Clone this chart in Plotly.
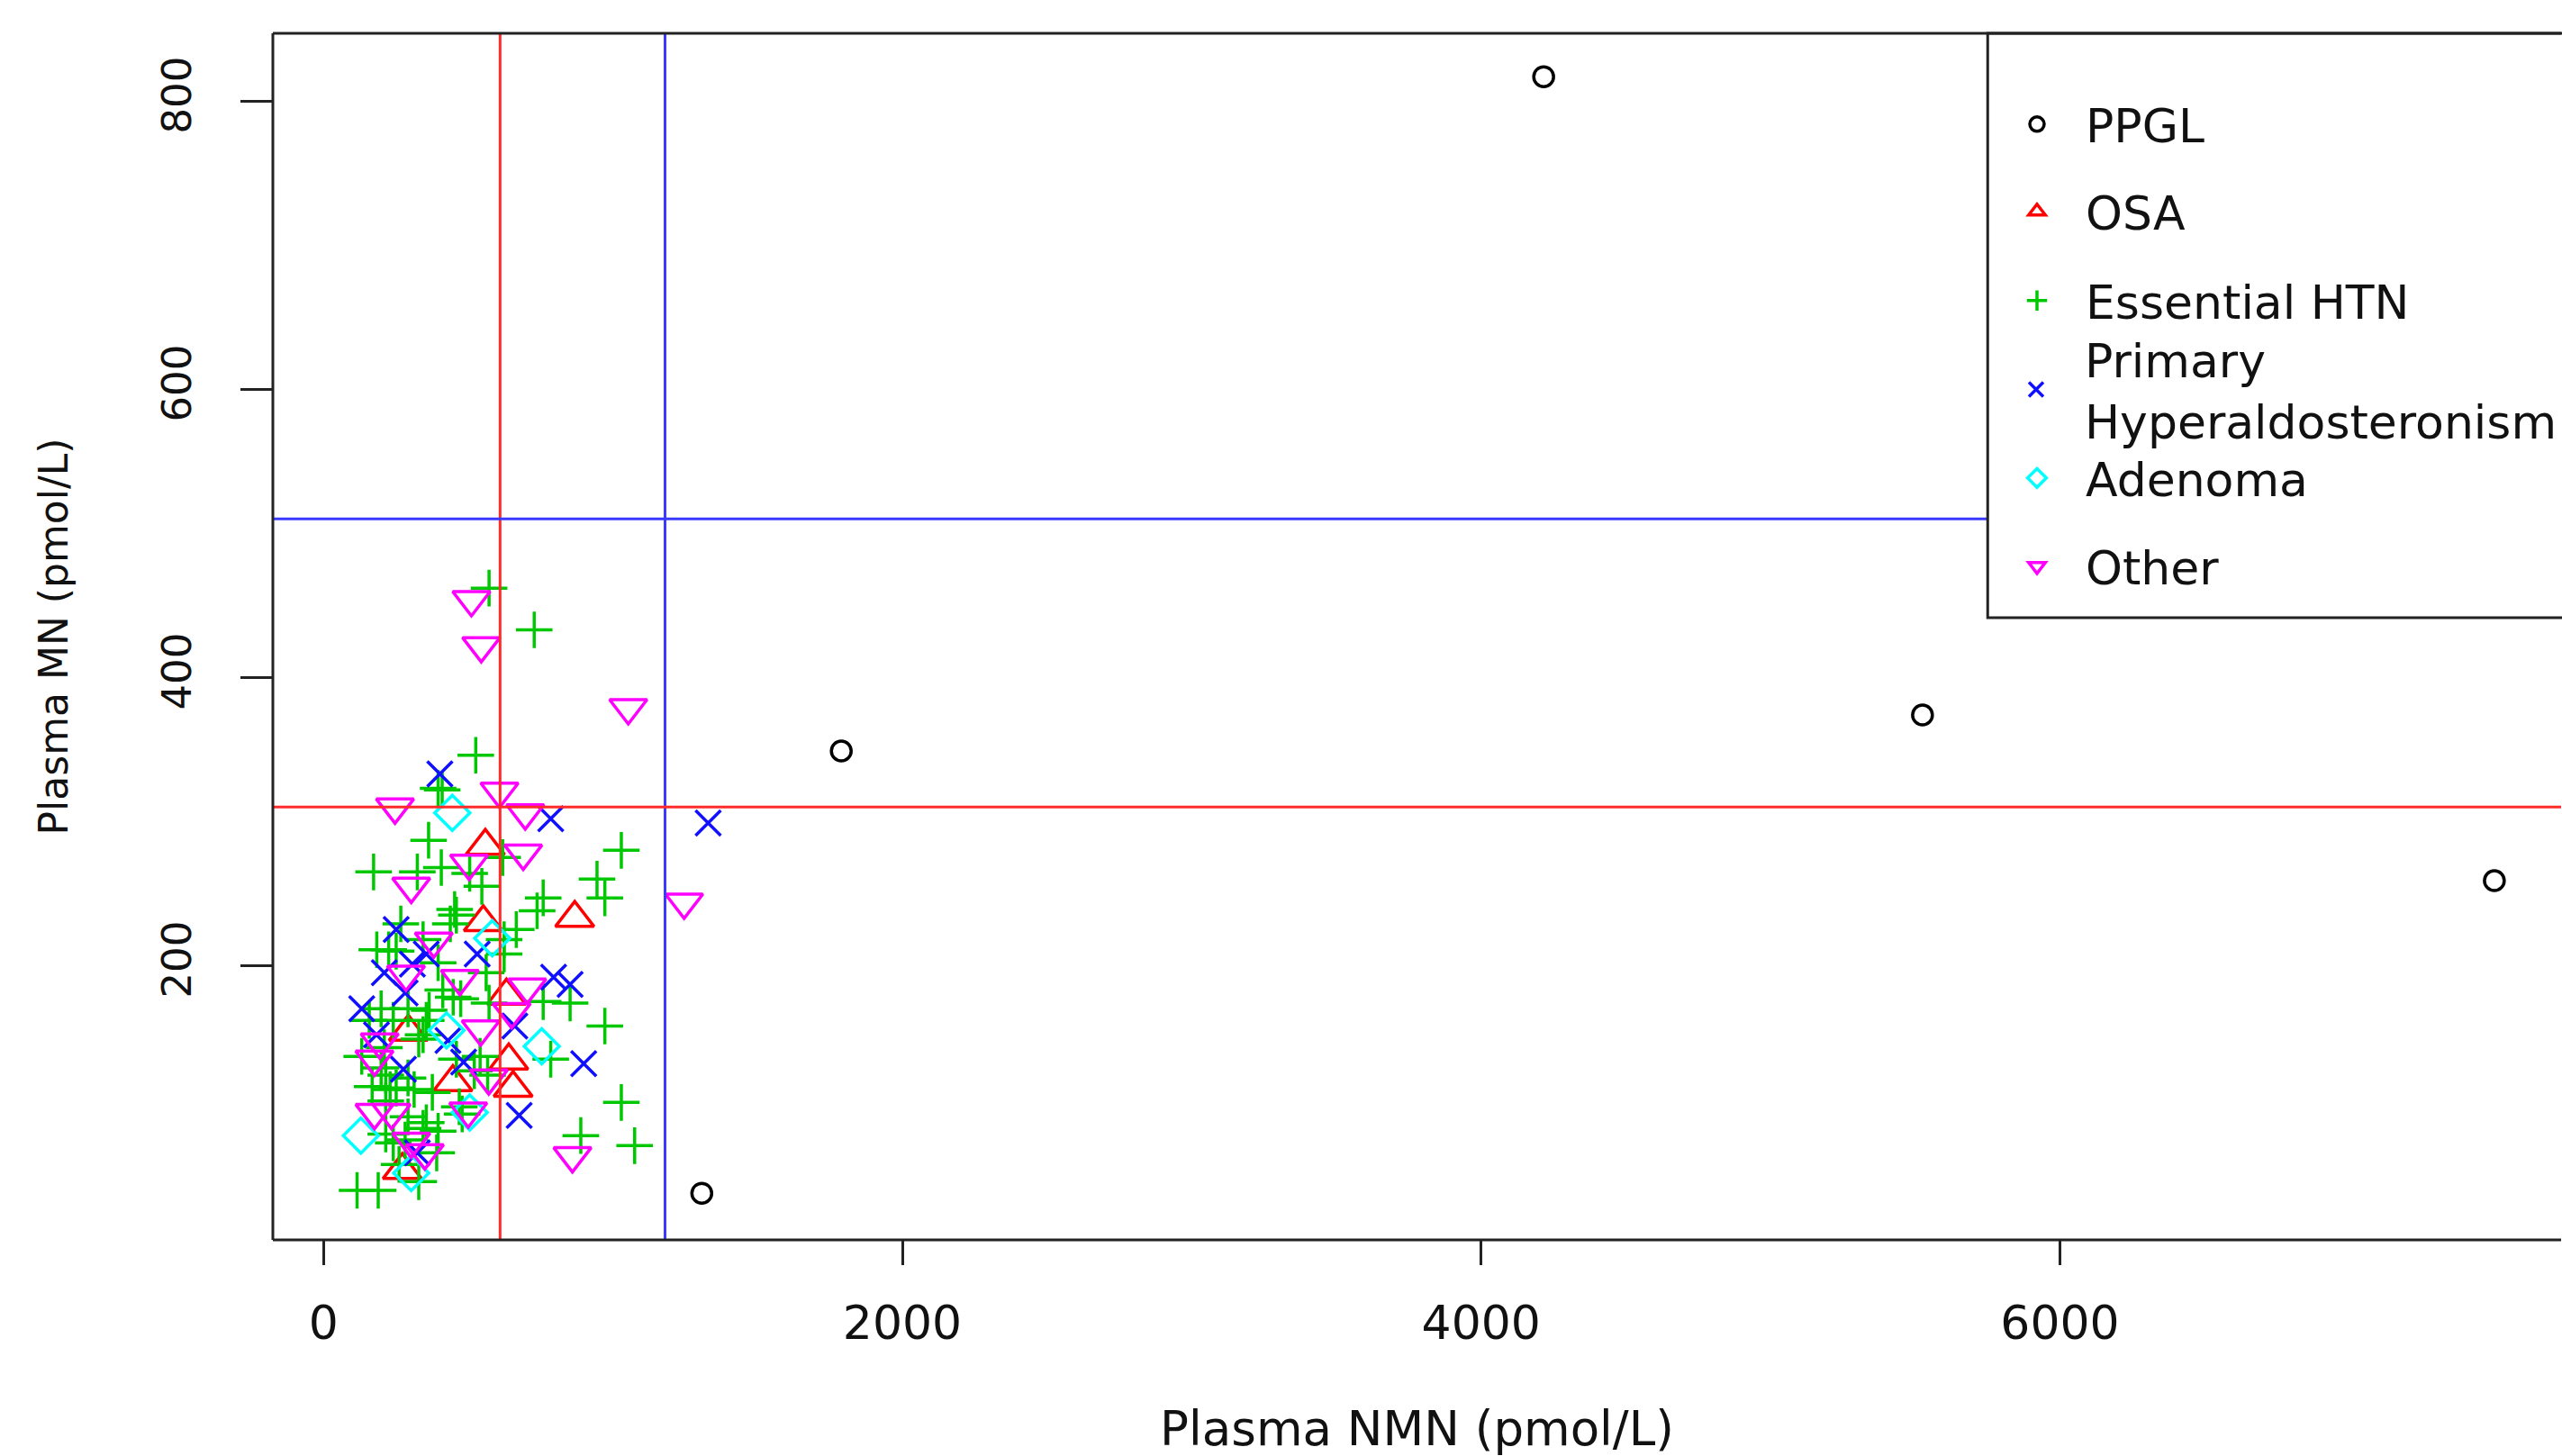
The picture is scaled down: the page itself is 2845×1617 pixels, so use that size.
import plotly.graph_objects as go

# ---------------- data ----------------
ppgl_nmn = [4216, 1789, 5525, 7501, 1307]
ppgl_mn = [817, 349, 374, 259, 42]

osa_nmn = [559, 868, 552, 293, 447, 640, 655, 632, 272]
osa_mn = [283, 233, 230, 154, 119, 134, 115, 179, 58]

ehtn_nmn = [572, 728, 526, 396, 410, 363, 1029, 619, 173, 324, 407, 505, 945, 547, 759, 972,
            738, 459, 438, 666, 267, 624, 562, 396, 225, 251, 474, 365, 329, 759, 852, 972,
            785, 1029, 889, 1075, 116, 189, 329, 132, 199, 168, 251, 313, 376, 215, 479, 215,
            344, 396, 282, 261, 567, 541, 459, 292, 344, 355, 241, 158, 210, 412, 448, 184,
            344, 453, 624, 199, 215, 292, 469, 230, 292, 355, 241, 391, 521, 572]
ehtn_mn = [462, 433, 346, 323, 322, 287, 280, 275, 265, 265, 268, 264, 260, 255, 247, 247,
           238, 235, 229, 225, 229, 208, 195, 202, 211, 210, 177, 169, 149, 175, 174, 158,
           135, 105, 82, 75, 44, 44, 50, 137, 129, 116, 115, 114, 112, 106, 97, 83,
           87, 85, 79, 62, 124, 137, 135, 170, 152, 162, 162, 162, 143, 183, 178, 211,
           218, 239, 218, 170, 124, 122, 102, 114, 95, 91, 77, 70, 127, 174]

pha_nmn = [402, 785, 1329, 795, 852, 899, 676, 661, 132, 355, 251, 531, 324, 183, 430, 282,
           307, 276, 484, 210]
pha_mn = [333, 302, 299, 192, 187, 132, 96, 158, 170, 208, 225, 208, 70, 152, 148, 181,
          201, 128, 133, 195]

aden_nmn = [445, 583, 754, 129, 505, 303, 425]
aden_mn = [306, 219, 144, 82, 98, 56, 155]

other_nmn = [511, 545, 1053, 608, 247, 697, 690, 503, 303, 381, 285, 471, 543, 194, 176, 176,
             235, 500, 303, 571, 704, 860, 1246, 650, 350]
other_mn = [454, 422, 379, 321, 310, 306, 278, 271, 255, 217, 194, 191, 156, 147, 135, 98,
            98, 99, 78, 122, 185, 68, 244, 168, 70]

group_names = ["PPGL", "OSA", "Essential HTN", "Primary<br>Hyperaldosteronism", "Adenoma", "Other"]

# cut-offs (reference lines)
nmn_cutoffs = [610, 1180]
mn_cutoffs = [310, 510]
cutoff_colors = ["#FF2A2A", "#3A3AFF"]

x_ticks = [0, 2000, 4000, 6000]
y_ticks = [200, 400, 600, 800]

# ---------------- style ----------------
W, H = 2845, 1617
ML, MR, MT, MB = 303, 0, 37, 240
FONT = "DejaVu Sans"

series = [
    (ppgl_nmn, ppgl_mn, "circle-open", "#000000", 22),
    (osa_nmn, osa_mn, "triangle-up-open", "#FF0000", 37),
    (ehtn_nmn, ehtn_mn, "cross-thin-open", "#00C800", 29),
    (pha_nmn, pha_mn, "x-thin-open", "#1010FF", 28),
    (aden_nmn, aden_mn, "diamond-open", "#00FFFF", 30),
    (other_nmn, other_mn, "triangle-down-open", "#FF00FF", 36),
]
legend_y_px = [138, 235, 334, 433, 531, 629]

fig = go.Figure()
for i, ((xs, ys, sym, col, sz), name) in enumerate(zip(series, group_names)):
    lg = "legend" if i == 0 else f"legend{i+1}"
    fig.add_trace(go.Scatter(
        x=xs, y=ys, mode="markers", name=name, legend=lg,
        marker=dict(symbol=sym, size=sz, color=col,
                    line=dict(color=col, width=3.5)),
    ))

shapes = []
for v, c in zip(nmn_cutoffs, cutoff_colors):
    shapes.append(dict(type="line", xref="x", yref="paper", x0=v, x1=v, y0=0, y1=1,
                       line=dict(color=c, width=3), layer="above"))
for v, c in zip(mn_cutoffs, cutoff_colors):
    shapes.append(dict(type="line", xref="paper", yref="y", x0=0, x1=1, y0=v, y1=v,
                       line=dict(color=c, width=3), layer="above"))

plot_w = W - ML - MR
plot_h = H - MT - MB
leg_left = (2208 - ML) / plot_w
leg_bottom = (H - MB - 686) / plot_h
# legend box
shapes.append(dict(type="rect", xref="paper", yref="paper", x0=leg_left, x1=1.05,
                   y0=leg_bottom, y1=1, line=dict(color="#222222", width=3),
                   fillcolor="white", layer="above"))
# plot frame (left, bottom, top)
frame = dict(color="#222222", width=3)
shapes.append(dict(type="line", xref="paper", yref="paper", x0=0, x1=0, y0=0, y1=1, line=frame, layer="above"))
shapes.append(dict(type="line", xref="paper", yref="paper", x0=0, x1=1, y0=0, y1=0, line=frame, layer="above"))
shapes.append(dict(type="line", xref="paper", yref="paper", x0=0, x1=1, y0=1, y1=1, line=frame, layer="above"))

legends = {}
for i, ypx in enumerate(legend_y_px):
    key = "legend" if i == 0 else f"legend{i+1}"
    legends[key] = dict(
        x=leg_left, xanchor="left",
        y=(H - MB - ypx) / plot_h, yanchor="middle",
        bgcolor="rgba(0,0,0,0)", borderwidth=0,
        font=dict(family=FONT, size=52, color="#111111"),
        itemwidth=98, tracegroupgap=0, itemclick=False,
    )

fig.update_layout(
    width=W, height=H,
    margin=dict(l=ML, r=MR, t=MT, b=MB, pad=0),
    paper_bgcolor="white", plot_bgcolor="white",
    showlegend=True,
    shapes=shapes,
    xaxis=dict(
        range=[-175.1, 7731.6], tickmode="array", tickvals=x_ticks,
        ticktext=[str(t) for t in x_ticks],
        ticks="outside", ticklen=27, tickwidth=2.5, tickcolor="#222222",
        showgrid=False, zeroline=False, showline=False,
        tickfont=dict(family=FONT, size=52, color="#111111"),
        ticklabelstandoff=20,
        title=dict(text="Plasma NMN (pmol/L)", font=dict(family=FONT, size=53, color="#111111"),
                   standoff=70),
    ),
    yaxis=dict(
        range=[9.6, 847.1], tickmode="array", tickvals=y_ticks,
        ticktext=[str(t) for t in y_ticks], tickangle=-90,
        ticks="outside", ticklen=35, tickwidth=2.5, tickcolor="#222222",
        showgrid=False, zeroline=False, showline=False,
        tickfont=dict(family=FONT, size=45, color="#111111"),
        ticklabelstandoff=37,
        title=dict(text="Plasma MN (pmol/L)", font=dict(family=FONT, size=44, color="#111111"),
                   standoff=80),
    ),
    **legends,
)

fig.write_html("out.html", config={"displayModeBar": False},
               post_script="document.body.style.margin='0';")
